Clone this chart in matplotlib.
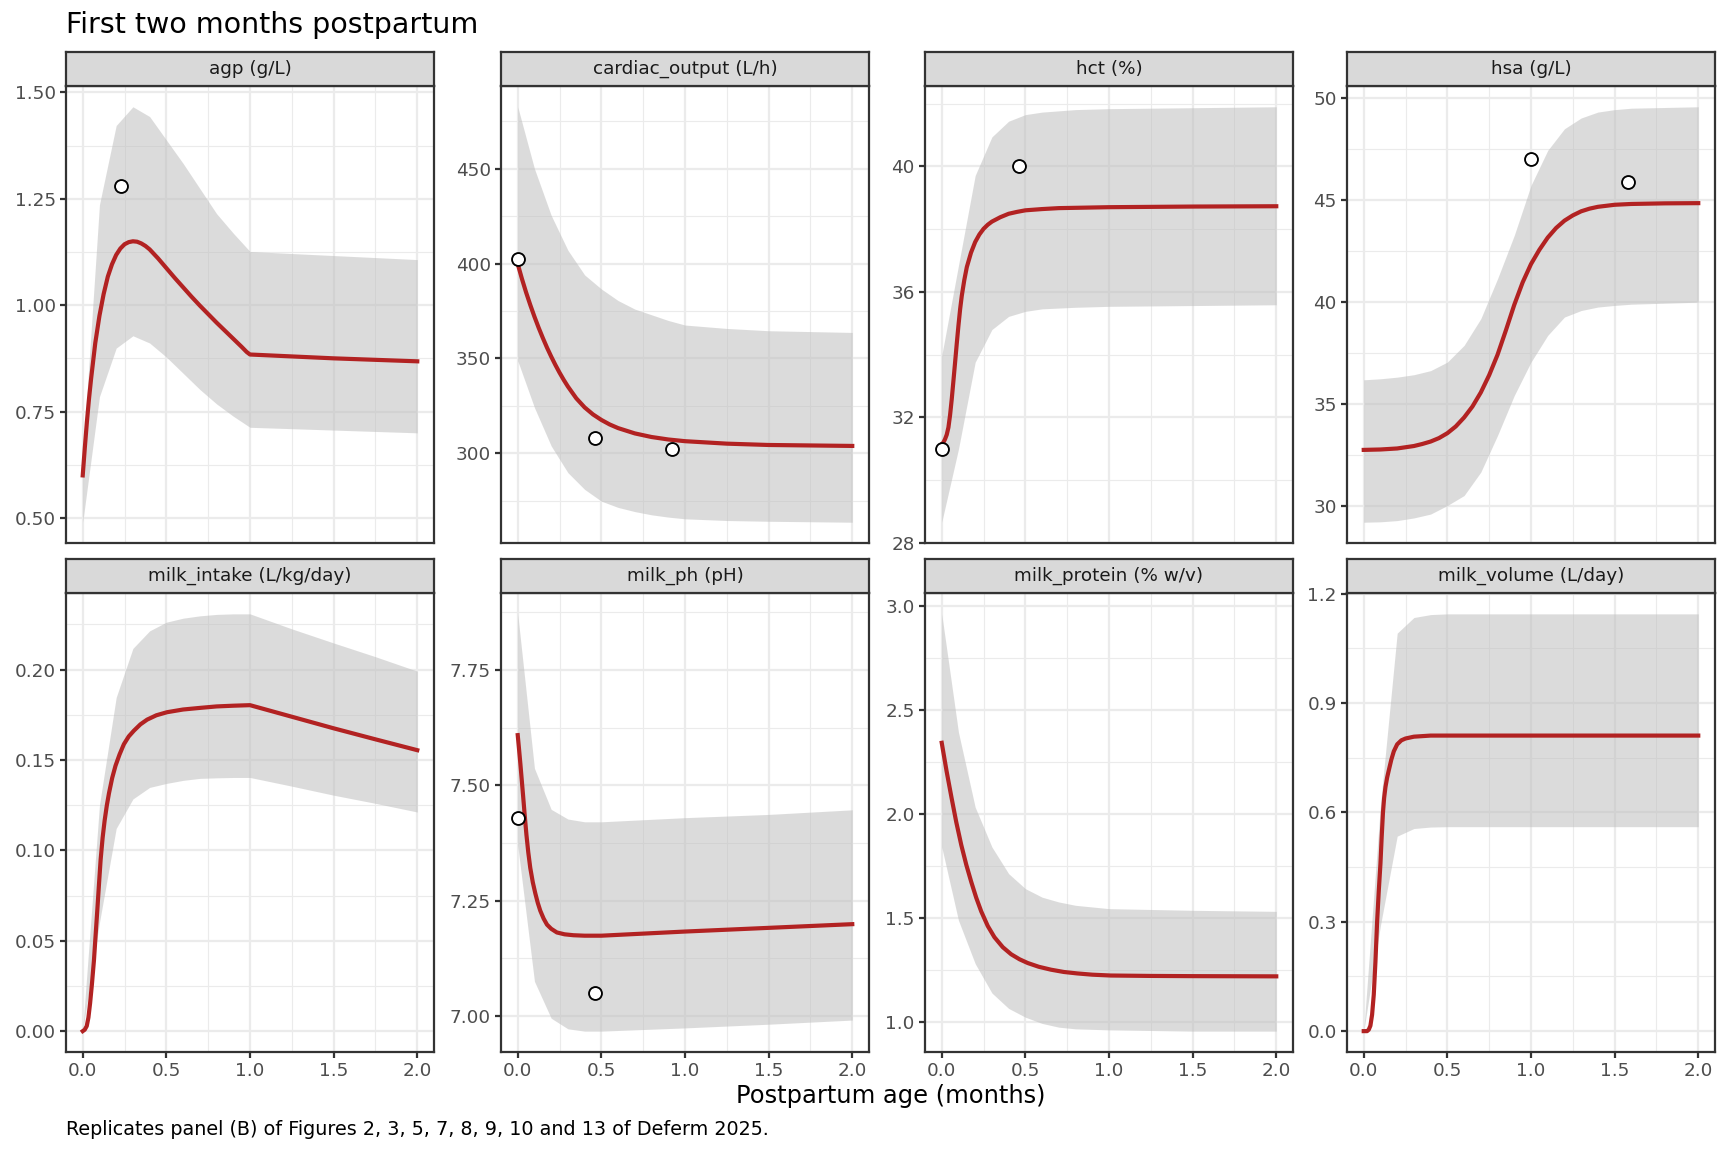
import numpy as np
import matplotlib.pyplot as plt

plt.rcParams['font.family'] = ['DejaVu Sans']

# ---- data (x = postpartum age in months) ----
# agp (g/L)
agp_rib_x = [0, 0.1, 0.2, 0.3, 0.4, 0.5, 0.6, 0.7, 0.8, 0.9, 1.0, 2.0]
agp_lo = [0.49, 0.785, 0.899, 0.928, 0.911, 0.878, 0.84, 0.802, 0.768, 0.739, 0.713, 0.70]
agp_hi = [0.64, 1.236, 1.422, 1.466, 1.443, 1.388, 1.333, 1.274, 1.215, 1.169, 1.126, 1.107]
agp_x = [0, 0.0125, 0.025, 0.0375, 0.05, 0.075, 0.1, 0.125, 0.15, 0.175, 0.2, 0.225, 0.25, 0.275,
         0.3, 0.325, 0.35, 0.375, 0.4, 0.45, 0.5, 0.55, 0.6, 0.65, 0.7, 0.75, 0.8, 0.85, 0.9, 0.95,
         0.98, 1.0, 1.5, 2.0]
agp_y = [0.60, 0.665, 0.726, 0.780, 0.827, 0.911, 0.975, 1.026, 1.067, 1.096, 1.118, 1.133, 1.143, 1.148,
         1.150, 1.149, 1.145, 1.139, 1.131, 1.110, 1.087, 1.064, 1.042, 1.020, 0.999, 0.979, 0.959, 0.940,
         0.921, 0.902, 0.890, 0.884, 0.875, 0.868]
agp_pt_x = [0.23]
agp_pt_y = [1.28]
agp_ticks = [0.50, 0.75, 1.00, 1.25, 1.50]
agp_labels = ['0.50', '0.75', '1.00', '1.25', '1.50']

# cardiac_output (L/h)
co_rib_x = [0, 0.1, 0.2, 0.3, 0.4, 0.5, 0.6, 0.7, 0.8, 0.9, 1.0, 1.25, 1.5, 2.0]
co_lo = [348.8, 324.1, 303.9, 289.8, 281.0, 274.8, 271.5, 269.3, 267.6, 266.4, 265.5, 264.6, 264.2, 263.7]
co_hi = [482.6, 450.0, 425.4, 407.0, 394.0, 386.6, 380.5, 376.0, 373.0, 370.0, 367.6, 365.8, 364.6, 363.7]
co_x = [0, 0.025, 0.05, 0.075, 0.1, 0.125, 0.15, 0.175, 0.2, 0.225, 0.25, 0.275, 0.3, 0.35, 0.4, 0.45,
        0.5, 0.55, 0.6, 0.7, 0.8, 0.9, 1.0, 1.25, 1.5, 2.0]
co_y = [399.8, 392.0, 384.8, 378.2, 372.0, 366.2, 360.8, 355.7, 351.0, 346.6, 342.5, 338.7, 335.2, 329.0,
        324.2, 320.5, 317.6, 315.2, 313.3, 310.5, 308.6, 307.3, 306.4, 305.1, 304.4, 303.9]
co_pt_x = [0, 0.46, 0.92]
co_pt_y = [402.3, 308.1, 302.5]
co_ticks = [300, 350, 400, 450]
co_labels = ['300', '350', '400', '450']

# hct (%)
hct_rib_x = [0, 0.1, 0.2, 0.3, 0.4, 0.5, 0.6, 0.8, 1.0, 2.0]
hct_lo = [28.66, 30.99, 33.76, 34.80, 35.22, 35.38, 35.46, 35.51, 35.54, 35.59]
hct_hi = [33.97, 36.84, 39.71, 40.94, 41.44, 41.65, 41.73, 41.81, 41.84, 41.90]
hct_x = [0, 0.01, 0.02, 0.03, 0.04, 0.05, 0.06, 0.07, 0.08, 0.09, 0.1, 0.11, 0.12, 0.135, 0.15, 0.175,
         0.2, 0.225, 0.25, 0.275, 0.3, 0.35, 0.4, 0.45, 0.5, 0.6, 0.7, 1.0, 1.5, 2.0]
hct_y = [31.15, 31.20, 31.31, 31.45, 31.68, 32.08, 32.59, 33.17, 33.76, 34.36, 34.93, 35.45, 35.88, 36.38,
         36.79, 37.25, 37.59, 37.83, 38.01, 38.14, 38.24, 38.38, 38.49, 38.55, 38.60, 38.64, 38.67, 38.70,
         38.72, 38.73]
hct_pt_x = [0, 0.46]
hct_pt_y = [31.0, 40.0]
hct_ticks = [28, 32, 36, 40]
hct_labels = ['28', '32', '36', '40']

# hsa (g/L)
hsa_rib_x = [0, 0.1, 0.2, 0.3, 0.4, 0.5, 0.6, 0.7, 0.8, 0.9, 1.0, 1.1, 1.2, 1.3, 1.4, 1.5, 1.6, 2.0]
hsa_lo = [29.18, 29.20, 29.26, 29.39, 29.58, 30.00, 30.49, 31.64, 33.44, 35.40, 37.04, 38.35, 39.25, 39.57,
          39.74, 39.82, 39.88, 39.98]
hsa_hi = [36.17, 36.22, 36.30, 36.42, 36.62, 37.04, 37.86, 39.17, 41.13, 43.26, 45.71, 47.43, 48.49, 49.02,
          49.31, 49.43, 49.50, 49.57]
hsa_x = [0, 0.1, 0.2, 0.3, 0.35, 0.4, 0.45, 0.5, 0.55, 0.6, 0.65, 0.7, 0.75, 0.8, 0.85, 0.9, 0.95, 1.0,
         1.05, 1.1, 1.15, 1.2, 1.25, 1.3, 1.35, 1.4, 1.5, 1.6, 1.8, 2.0]
hsa_y = [32.73, 32.75, 32.80, 32.92, 33.02, 33.14, 33.31, 33.55, 33.88, 34.32, 34.86, 35.55, 36.40, 37.40,
         38.60, 39.85, 40.95, 41.85, 42.55, 43.15, 43.62, 43.98, 44.24, 44.44, 44.57, 44.66, 44.76, 44.80,
         44.83, 44.84]
hsa_pt_x = [1.0, 1.58]
hsa_pt_y = [46.99, 45.88]
hsa_ticks = [30, 35, 40, 45, 50]
hsa_labels = ['30', '35', '40', '45', '50']

# milk_intake (L/kg/day)
mi_rib_x = [0, 0.1, 0.2, 0.3, 0.4, 0.5, 0.6, 0.7, 0.8, 0.9, 1.0, 1.25, 1.5, 1.75, 2.0]
mi_lo = [0.0, 0.060, 0.1121, 0.1284, 0.1348, 0.1370, 0.1387, 0.1398, 0.1401, 0.1403, 0.1403, 0.1355, 0.1305,
         0.1260, 0.1212]
mi_hi = [0.001, 0.125, 0.1846, 0.2117, 0.2214, 0.2262, 0.2284, 0.2297, 0.2305, 0.2308, 0.2308, 0.2225, 0.2147,
         0.2071, 0.1991]
mi_x = [0, 0.012, 0.024, 0.034, 0.044, 0.055, 0.067, 0.077, 0.087, 0.097, 0.107, 0.119, 0.131, 0.144, 0.157,
        0.176, 0.196, 0.22, 0.246, 0.275, 0.306, 0.345, 0.385, 0.44, 0.504, 0.6, 0.702, 0.8, 0.9, 1.0,
        1.25, 1.5, 1.75, 2.0]
mi_y = [0.0, 0.0008, 0.0028, 0.0075, 0.0154, 0.026, 0.039, 0.053, 0.0667, 0.081, 0.0948, 0.107, 0.1165,
        0.1248, 0.1316, 0.140, 0.1468, 0.153, 0.1587, 0.1630, 0.1662, 0.1697, 0.1723, 0.1747, 0.1764, 0.1779,
        0.1788, 0.1796, 0.1800, 0.1803, 0.1739, 0.1675, 0.1614, 0.1554]
mi_pt_x = []
mi_pt_y = []
mi_ticks = [0.00, 0.05, 0.10, 0.15, 0.20]
mi_labels = ['0.00', '0.05', '0.10', '0.15', '0.20']

# milk_ph (pH)
ph_rib_x = [0, 0.1, 0.2, 0.3, 0.4, 0.5, 1.0, 1.5, 2.0]
ph_lo = [7.37, 7.075, 6.995, 6.972, 6.967, 6.967, 6.974, 6.982, 6.991]
ph_hi = [7.872, 7.537, 7.448, 7.427, 7.421, 7.421, 7.430, 7.437, 7.447]
ph_x = [0, 0.008, 0.016, 0.024, 0.032, 0.042, 0.052, 0.063, 0.075, 0.09, 0.105, 0.12, 0.135, 0.155, 0.175,
        0.2, 0.234, 0.28, 0.333, 0.4, 0.5, 1.0, 2.0]
ph_y = [7.609, 7.578, 7.546, 7.512, 7.478, 7.434, 7.393, 7.355, 7.321, 7.290, 7.266, 7.245, 7.228, 7.211,
        7.198, 7.189, 7.181, 7.177, 7.175, 7.174, 7.174, 7.183, 7.199]
ph_pt_x = [0, 0.46]
ph_pt_y = [7.43, 7.05]
ph_ticks = [7.00, 7.25, 7.50, 7.75]
ph_labels = ['7.00', '7.25', '7.50', '7.75']

# milk_protein (% w/v)
mp_rib_x = [0, 0.1, 0.2, 0.3, 0.4, 0.5, 0.6, 0.7, 0.8, 1.0, 1.5, 2.0]
mp_lo = [1.841, 1.489, 1.281, 1.140, 1.066, 1.024, 0.994, 0.976, 0.968, 0.963, 0.957, 0.957]
mp_hi = [2.96, 2.392, 2.032, 1.841, 1.713, 1.641, 1.600, 1.577, 1.561, 1.545, 1.537, 1.532]
mp_x = [0, 0.029, 0.058, 0.087, 0.117, 0.147, 0.177, 0.206, 0.236, 0.275, 0.315, 0.365, 0.415, 0.465,
        0.514, 0.58, 0.653, 0.73, 0.81, 0.9, 1.01, 1.25, 1.5, 2.0]
mp_y = [2.341, 2.205, 2.08, 1.96, 1.85, 1.755, 1.672, 1.598, 1.532, 1.462, 1.408, 1.36, 1.326, 1.302,
        1.284, 1.266, 1.252, 1.241, 1.234, 1.228, 1.224, 1.222, 1.221, 1.220]
mp_pt_x = []
mp_pt_y = []
mp_ticks = [1.0, 1.5, 2.0, 2.5, 3.0]
mp_labels = ['1.0', '1.5', '2.0', '2.5', '3.0']

# milk_volume (L/day)
mv_rib_x = [0, 0.1, 0.2, 0.3, 0.4, 0.5, 2.0]
mv_lo = [0.0, 0.29, 0.535, 0.556, 0.560, 0.561, 0.561]
mv_hi = [0.0, 0.62, 1.092, 1.135, 1.143, 1.145, 1.145]
mv_x = [0, 0.02, 0.03, 0.04, 0.05, 0.06, 0.07, 0.08, 0.09, 0.1, 0.107, 0.115, 0.122, 0.13, 0.14, 0.15,
        0.165, 0.18, 0.2, 0.225, 0.25, 0.3, 0.4, 2.0]
mv_y = [0.0, 0.0, 0.004, 0.015, 0.045, 0.10, 0.19, 0.30, 0.385, 0.46, 0.53, 0.60, 0.64, 0.67, 0.696, 0.716,
        0.745, 0.768, 0.787, 0.798, 0.803, 0.808, 0.811, 0.811]
mv_pt_x = []
mv_pt_y = []
mv_ticks = [0.0, 0.3, 0.6, 0.9, 1.2]
mv_labels = ['0.0', '0.3', '0.6', '0.9', '1.2']

x_ticks = [0.0, 0.5, 1.0, 1.5, 2.0]
x_labels = ['0.0', '0.5', '1.0', '1.5', '2.0']

strip_titles = ['agp (g/L)', 'cardiac_output (L/h)', 'hct (%)', 'hsa (g/L)',
                'milk_intake (L/kg/day)', 'milk_ph (pH)', 'milk_protein (% w/v)', 'milk_volume (L/day)']

panels = [
    (agp_rib_x, agp_lo, agp_hi, agp_x, agp_y, agp_pt_x, agp_pt_y, agp_ticks, agp_labels),
    (co_rib_x, co_lo, co_hi, co_x, co_y, co_pt_x, co_pt_y, co_ticks, co_labels),
    (hct_rib_x, hct_lo, hct_hi, hct_x, hct_y, hct_pt_x, hct_pt_y, hct_ticks, hct_labels),
    (hsa_rib_x, hsa_lo, hsa_hi, hsa_x, hsa_y, hsa_pt_x, hsa_pt_y, hsa_ticks, hsa_labels),
    (mi_rib_x, mi_lo, mi_hi, mi_x, mi_y, mi_pt_x, mi_pt_y, mi_ticks, mi_labels),
    (ph_rib_x, ph_lo, ph_hi, ph_x, ph_y, ph_pt_x, ph_pt_y, ph_ticks, ph_labels),
    (mp_rib_x, mp_lo, mp_hi, mp_x, mp_y, mp_pt_x, mp_pt_y, mp_ticks, mp_labels),
    (mv_rib_x, mv_lo, mv_hi, mv_x, mv_y, mv_pt_x, mv_pt_y, mv_ticks, mv_labels),
]

# ---- layout (pixels of a 1728x1152 canvas) ----
W, H = 1728, 1152
fig = plt.figure(figsize=(W / 150, H / 150), dpi=150)
lefts = [66, 501, 925, 1347]
pw = 368
rows = [(86, 543), (593, 1052)]
strip_h = 34
border = '#333333'
grid_col = '#EBEBEB'

for i, (rx, lo, hi, lx, ly, px, py, ticks, labels) in enumerate(panels):
    r, c = divmod(i, 4)
    top, bot = rows[r]
    left = lefts[c]
    ax = fig.add_axes([left / W, 1 - bot / H, pw / W, (bot - top) / H])
    st = fig.add_axes([left / W, 1 - top / H, pw / W, strip_h / H])

    # strip
    st.set_facecolor('#D9D9D9')
    st.set_xticks([])
    st.set_yticks([])
    for s in st.spines.values():
        s.set_color(border)
        s.set_linewidth(1.07)
    st.text(0.5, 0.5, strip_titles[i], transform=st.transAxes, ha='center', va='center',
            fontsize=8.8, color='#1A1A1A')

    # marks
    ax.fill_between(rx, lo, hi, color='#BFBFBF', alpha=0.55, lw=0, zorder=1)
    ax.plot(lx, ly, color='#B22222', lw=2.0, zorder=3, solid_joinstyle='round')
    if px:
        ax.plot(px, py, 'o', mfc='white', mec='black', ms=6.2, mew=0.9, zorder=4, clip_on=False)

    # scales (ggplot-style 5% expansion)
    vals = list(lo) + list(hi) + list(ly) + list(py)
    vmin, vmax = min(vals), max(vals)
    pad = 0.05 * (vmax - vmin)

    step = ticks[1] - ticks[0]
    ax.set_yticks(ticks)
    ax.set_yticklabels(labels)
    ax.set_yticks([ticks[0] - step / 2] + [t + step / 2 for t in ticks], minor=True)
    ax.set_xticks(x_ticks)
    ax.set_xticklabels(x_labels)
    ax.set_xticks([0.25, 0.75, 1.25, 1.75], minor=True)
    ax.set_ylim(vmin - pad, vmax + pad)
    ax.set_xlim(-0.1, 2.1)

    ax.set_axisbelow(True)
    ax.grid(which='major', color=grid_col, lw=1.07)
    ax.grid(which='minor', color=grid_col, lw=0.55)
    ax.tick_params(which='major', length=2.75, width=1.07, color=border, pad=2.2,
                   labelsize=8.8, labelcolor='#4D4D4D')
    ax.tick_params(which='minor', length=0)
    if r == 0:
        ax.tick_params(axis='x', which='major', length=0, labelbottom=False)
    for s in ax.spines.values():
        s.set_color(border)
        s.set_linewidth(1.07)
        s.set_zorder(5)

fig.text(66 / W, 1 - 33 / H, 'First two months postpartum', fontsize=13.7, ha='left', va='baseline')
fig.text(890.5 / W, 1 - 1096 / H, 'Postpartum age (months)', fontsize=11.6, ha='center', va='center')
fig.text(66 / W, 1 - 1135 / H, 'Replicates panel (B) of Figures 2, 3, 5, 7, 8, 9, 10 and 13 of Deferm 2025.',
         fontsize=9.2, ha='left', va='baseline')

fig.savefig('out.png', dpi=150)
